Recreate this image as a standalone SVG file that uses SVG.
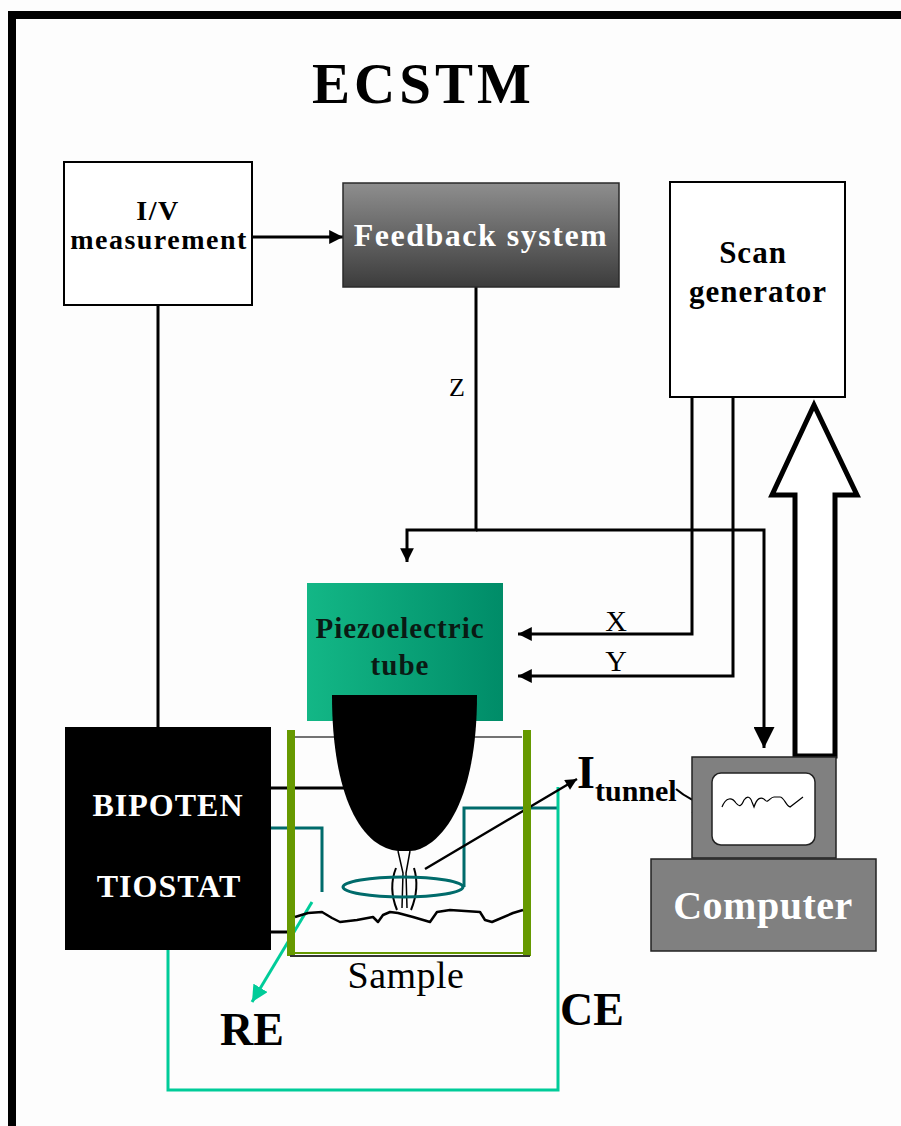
<svg xmlns="http://www.w3.org/2000/svg" width="901" height="1126" viewBox="0 0 901 1126">
  <style>
    text { font-family: "Liberation Serif", "Times New Roman", serif; }
    .b { font-weight: bold; }
    .wire { fill: none; stroke: #000; stroke-width: 3; }
    .teal { fill: none; stroke: #006b6b; stroke-width: 3; }
    .mint { fill: none; stroke: #00cc99; stroke-width: 3; }
    .box { fill: #fff; stroke: #000; stroke-width: 2; }
  </style>
  <defs>
    <linearGradient id="gFeedback" x1="0" y1="0" x2="0" y2="1">
      <stop offset="0" stop-color="#8e8e8e"/>
      <stop offset="1" stop-color="#3c3c3c"/>
    </linearGradient>
    <linearGradient id="gPiezo" x1="0" y1="0" x2="1" y2="0">
      <stop offset="0" stop-color="#13b786"/>
      <stop offset="1" stop-color="#008c68"/>
    </linearGradient>
    <marker id="ah" viewBox="0 0 10 10" refX="10" refY="5" markerWidth="5.2" markerHeight="4.6" orient="auto" markerUnits="strokeWidth">
      <path d="M0,0 L10,5 L0,10 Z" fill="#000"/>
    </marker>
    <marker id="ahBig" viewBox="0 0 10 10" refX="10" refY="5" markerWidth="7" markerHeight="7" orient="auto" markerUnits="strokeWidth">
      <path d="M0,0 L10,5 L0,10 Z" fill="#000"/>
    </marker>
    <marker id="ahMint" viewBox="0 0 10 10" refX="10" refY="5" markerWidth="5.5" markerHeight="5.5" orient="auto" markerUnits="strokeWidth">
      <path d="M0,0 L10,5 L0,10 Z" fill="#00cc99"/>
    </marker>
  </defs>

  <!-- page frame -->
  <rect x="0" y="0" width="901" height="1126" fill="#fdfdfd"/>
  <rect x="12" y="15" width="960" height="1200" fill="none" stroke="#000" stroke-width="8"/>

  <text class="b" x="312" y="103" font-size="57" letter-spacing="4">ECSTM</text>

  <!-- connectors -->
  <g id="connectors">
    <line class="wire" x1="252" y1="237" x2="343" y2="237" marker-end="url(#ah)"/>
    <line class="wire" x1="158" y1="305" x2="158" y2="727"/>
    <polyline class="wire" points="476,287 476,530 407,530 407,562" marker-end="url(#ah)"/>
    <polyline class="wire" points="476,530 764,530 764,748" marker-end="url(#ahBig)"/>
    <polyline class="wire" points="692,397 692,634 518,634" marker-end="url(#ah)"/>
    <polyline class="wire" points="733,397 733,676 518,676" marker-end="url(#ah)"/>
    <text x="457" y="396" font-size="26" text-anchor="middle">Z</text>
    <text x="616" y="631" font-size="30" text-anchor="middle">X</text>
    <text x="616" y="671" font-size="30" text-anchor="middle">Y</text>
    <!-- hollow data arrow from computer to scan generator -->
    <polygon points="814,405 857,495 835,495 835,756 795,756 795,495 772,495" fill="#fff" stroke="#000" stroke-width="5" stroke-linejoin="miter"/>
    <!-- electrode leads -->
    <line class="wire" x1="271" y1="788" x2="345" y2="788"/>
    <line class="wire" x1="271" y1="932" x2="288" y2="932"/>
    <polyline class="teal" points="271,828 322,828 322,892"/>
    <polyline class="teal" points="464,887 464,808 557,808"/>
    <polyline class="mint" points="168,950 168,1090 558,1090 558,787"/>
    <line class="mint" x1="312" y1="902" x2="252" y2="1002" marker-end="url(#ahMint)"/>
    <line x1="425" y1="869" x2="577" y2="779" stroke="#000" stroke-width="2.5" marker-end="url(#ah)"/>
  </g>

  <g id="iv-measurement">
    <rect class="box" x="64" y="162" width="188" height="143"/>
    <text class="b" x="158" y="220" font-size="28" text-anchor="middle" letter-spacing="1.5">I/V</text>
    <text class="b" x="159" y="249" font-size="28" text-anchor="middle" letter-spacing="1.5">measurement</text>
  </g>

  <g id="feedback-system">
    <rect x="343" y="183" width="276" height="104" fill="url(#gFeedback)" stroke="#2a2a2a" stroke-width="1.5"/>
    <text class="b" x="481" y="246" font-size="32" text-anchor="middle" fill="#fff" letter-spacing="1.5">Feedback system</text>
  </g>

  <g id="scan-generator">
    <rect class="box" x="670" y="182" width="175" height="215"/>
    <text class="b" x="753" y="263" font-size="31" text-anchor="middle" letter-spacing="1">Scan</text>
    <text class="b" x="758" y="302" font-size="31" text-anchor="middle" letter-spacing="1">generator</text>
  </g>

  <g id="piezoelectric-tube">
    <rect x="307" y="583" width="196" height="138" fill="url(#gPiezo)"/>
    <text class="b" x="400" y="638" font-size="29" text-anchor="middle" letter-spacing="1" fill="#0a1a14">Piezoelectric</text>
    <text class="b" x="400" y="675" font-size="29" text-anchor="middle" letter-spacing="1" fill="#0a1a14">tube</text>
  </g>

  <g id="cell">
    <line x1="291" y1="737" x2="522" y2="737" stroke="#444" stroke-width="1.5"/>
    <rect x="287" y="730" width="8" height="226" fill="#669900"/>
    <rect x="523" y="730" width="8" height="226" fill="#669900"/>
    <line x1="290" y1="953" x2="528" y2="953" stroke="#669900" stroke-width="2"/>
    <line x1="290" y1="956" x2="530" y2="956" stroke="#333" stroke-width="2"/>
    <!-- sample surface -->
    <path d="M295,917 L308,913 L322,912 L332,918 L340,922 L357,920 L373,917 L378,922 L383,915 L390,912 L398,913 L413,917 L430,922 L437,912 L450,910 L480,912 L485,920 L492,922 L513,913 L523,910" fill="none" stroke="#000" stroke-width="2.5" stroke-linejoin="round"/>
    <text x="406" y="988" font-size="38" text-anchor="middle" letter-spacing="0.5">Sample</text>
  </g>

  <g id="tip">
    <path d="M332,695 L477,695 C477,765 462,818 432,842 Q420,851 410,851 L398,851 Q386,850 374,841 C346,818 332,765 332,695 Z" fill="#000"/>
    <path d="M398,851 L403,873 L402,908 M410,851 L406,873 L407,908" fill="none" stroke="#000" stroke-width="1.5"/>
    <path d="M396,868 Q388,888 397,910 M414,868 Q420,888 411,910" fill="none" stroke="#000" stroke-width="2"/>
    <ellipse cx="403" cy="887" rx="60" ry="10" fill="none" stroke="#006b6b" stroke-width="3"/>
  </g>

  <g id="bipotentiostat">
    <rect x="65" y="727" width="206" height="223" fill="#000"/>
    <text class="b" x="168" y="816" font-size="32" text-anchor="middle" letter-spacing="1" fill="#fff">BIPOTEN</text>
    <text class="b" x="169" y="897" font-size="32" text-anchor="middle" letter-spacing="1" fill="#fff">TIOSTAT</text>
  </g>

  <g id="labels">
    <text class="b" x="220" y="1045" font-size="46">RE</text>
    <text class="b" x="560" y="1025" font-size="46">CE</text>
    <text class="b" x="577" y="788" font-size="46">I</text>
    <text class="b" x="595" y="801" font-size="30">tunnel</text>
    <path d="M676,789 Q690,801 711,807" fill="none" stroke="#000" stroke-width="2.2"/>
    <path d="M694,793 L711,807 L692,813" fill="none" stroke="#000" stroke-width="2.2"/>
  </g>

  <g id="computer">
    <rect x="692" y="757" width="144" height="101" fill="#808080" stroke="#222" stroke-width="1.5"/>
    <rect x="712" y="773" width="103" height="72" rx="9" fill="#fff" stroke="#222" stroke-width="1.5"/>
    <path d="M722,807 C726,797 732,797 736,803 C739,807 741,807 744,800 C747,796 750,796 752,802 L754,807 C757,798 761,796 765,800 C768,804 770,797 774,797 L780,797 C784,797 786,806 790,807 L803,797" fill="none" stroke="#000" stroke-width="1.2"/>
    <rect x="651" y="859" width="225" height="92" fill="#808080" stroke="#222" stroke-width="1.5"/>
    <text class="b" x="763" y="919" font-size="40" text-anchor="middle" letter-spacing="0.5" fill="#fff">Computer</text>
  </g>
</svg>
